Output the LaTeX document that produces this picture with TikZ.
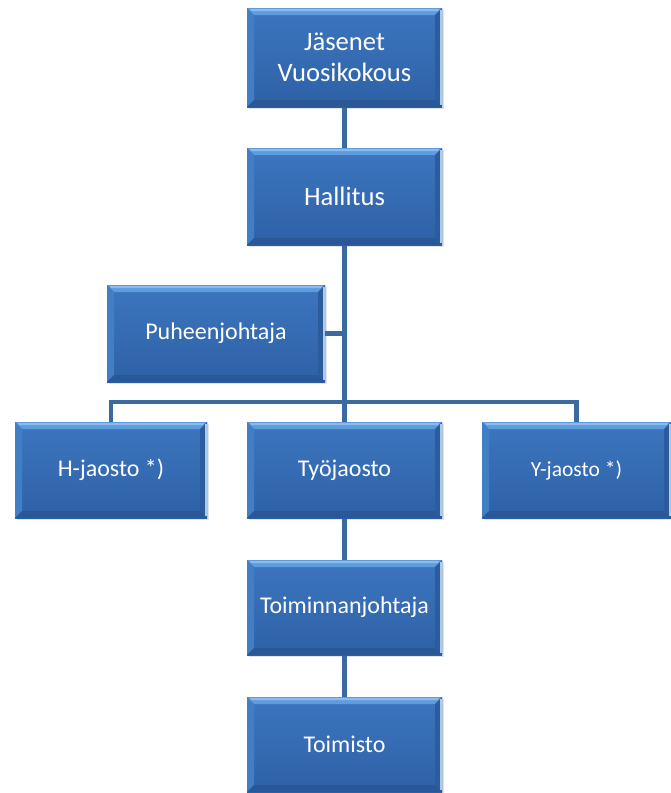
\documentclass[tikz,border=0pt]{standalone}
\usepackage{fontspec}
\setmainfont{Carlito}
\usetikzlibrary{shadows}
\definecolor{boxtop}{HTML}{3C76BF}
\definecolor{boxbot}{HTML}{2E61A6}
\definecolor{bevtop}{HTML}{5E9CE0}
\definecolor{bevleft}{HTML}{407EC5}
\definecolor{bevright}{HTML}{2C5C9C}
\definecolor{bevbot}{HTML}{2A5897}
\definecolor{edgelight}{HTML}{A9CBEE}
\definecolor{linkcol}{HTML}{3B6AA0}
\def\bbx{path picture bounding box}
\tikzset{
  orgbox/.style={rectangle, inner sep=0pt, text=white, align=center,
    top color=boxtop, bottom color=boxbot, draw=none,
    drop shadow={shadow xshift=2pt, shadow yshift=-2pt, opacity=0.18, fill=black!60},
    font=\fontsize{24}{28}\selectfont,
    path picture={
      \fill[bevtop] (\bbx.north west) -- (\bbx.north east) -- ([xshift=-7pt,yshift=-7pt]\bbx.north east) -- ([xshift=7pt,yshift=-7pt]\bbx.north west) -- cycle;
      \fill[bevleft] (\bbx.north west) -- ([xshift=7pt,yshift=-7pt]\bbx.north west) -- ([xshift=7pt,yshift=7pt]\bbx.south west) -- (\bbx.south west) -- cycle;
      \fill[bevright] (\bbx.north east) -- ([xshift=-7pt,yshift=-7pt]\bbx.north east) -- ([xshift=-7pt,yshift=7pt]\bbx.south east) -- (\bbx.south east) -- cycle;
      \fill[bevbot] (\bbx.south west) -- ([xshift=7pt,yshift=7pt]\bbx.south west) -- ([xshift=-7pt,yshift=7pt]\bbx.south east) -- (\bbx.south east) -- cycle;
      \fill[edgelight] ([xshift=-2pt,yshift=-2pt]\bbx.north east) rectangle ([xshift=-0.5pt,yshift=2pt]\bbx.south east);
      \fill[bevtop!70!white] ([xshift=3pt,yshift=-1pt]\bbx.north west) -- ([xshift=-3pt,yshift=-1pt]\bbx.north east) -- ([xshift=-4pt,yshift=-3pt]\bbx.north east) -- ([xshift=4pt,yshift=-3pt]\bbx.north west) -- cycle;
    }},
  bigtext/.style={font=\fontsize{26.6}{31}\selectfont},
  link/.style={draw=linkcol, line width=4.5pt}
}
\begin{document}
\begin{tikzpicture}[x=1pt,y=-1pt]
\useasboundingbox[fill=white] (0,0) rectangle (671,793);
% connectors first (behind boxes)
\coordinate (jc) at (344.5,57.5);
\coordinate (hac) at (344.5,196.5);
\coordinate (pjc) at (216,333.5);
\coordinate (hjc) at (111,470);
\coordinate (tjc) at (344.5,470);
\coordinate (yjc) at (576.5,470);
\coordinate (tojc) at (344.5,607.5);
\coordinate (toc) at (344.5,744.5);
\draw[link] (jc) -- (hac);
\draw[link] (hac) -- (tjc);
\draw[link] (pjc) -- (pjc -| hac);
\draw[link] (hjc) -- (111,402) -- (576.5,402) -- (yjc);
\draw[link] (tjc) -- (tojc);
\draw[link] (tojc) -- (toc);
% boxes
\node[orgbox, bigtext, minimum width=195, minimum height=99] (j) at (jc) {Jäsenet\\Vuosikokous};
\node[orgbox, bigtext, minimum width=195, minimum height=97] (ha) at (hac) {Hallitus};
\node[orgbox, minimum width=218, minimum height=97] (pj) at (pjc) {Puheenjohtaja};
\node[orgbox, minimum width=192, minimum height=96] (hj) at (hjc) {H-jaosto *)};
\node[orgbox, minimum width=195, minimum height=96] (tj) at (tjc) {Työjaosto};
\node[orgbox, minimum width=189, minimum height=96, font=\fontsize{21.5}{26}\selectfont] (yj) at (yjc) {Y-jaosto *)};
\node[orgbox, minimum width=195, minimum height=95] (toj) at (tojc) {Toiminnanjohtaja};
\node[orgbox, minimum width=195, minimum height=95] (to) at (toc) {Toimisto};
\end{tikzpicture}
\end{document}
